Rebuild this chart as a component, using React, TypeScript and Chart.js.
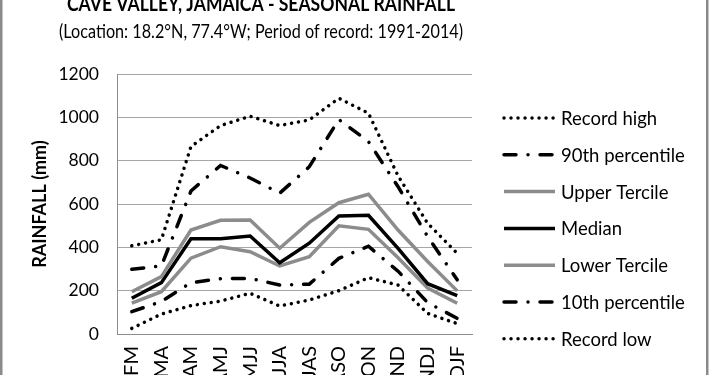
import React, { useEffect, useRef } from "react";
import { Chart, registerables } from "chart.js";

Chart.register(...registerables);

const categories = ["JFM", "FMA", "MAM", "AMJ", "MJJ", "JJA", "JAS", "ASO", "SON", "OND", "NDJ", "DJF"];
const recordHigh = [407, 435, 865, 962, 1005, 962, 988, 1088, 1019, 730, 511, 372];
const pct90 = [299, 314, 660, 778, 720, 650, 772, 990, 888, 680, 450, 250];
const upperTercile = [195, 265, 480, 525, 526, 396, 515, 606, 645, 480, 335, 199];
const median = [165, 237, 440, 440, 452, 329, 419, 545, 548, 395, 232, 177];
const lowerTercile = [142, 195, 350, 403, 380, 314, 357, 499, 483, 352, 212, 142];
const pct10 = [103, 150, 237, 255, 257, 226, 230, 349, 405, 290, 145, 72];
const recordLow = [26, 92, 131, 152, 188, 129, 157, 200, 260, 226, 95, 48];
const seriesNames = ["Record high", "90th percentile", "Upper Tercile", "Median", "Lower Tercile", "10th percentile", "Record low"];
const yTicks = [0, 200, 400, 600, 800, 1000, 1200];
const titleText = "CAVE VALLEY, JAMAICA - SEASONAL RAINFALL";
const subtitleText = "(Location: 18.2°N, 77.4°W; Period of record: 1991-2014)";
const yAxisTitle = "RAINFALL (mm)";

const FONT = "Lato, 'Open Sans', sans-serif";
const DOTTED = [0.01, 7];
const DASHDOT = [12, 12, 0.01, 12];
const GRAY = "#8c8c8c";

function fitText(ctx: CanvasRenderingContext2D, text: string, cx: number, y: number, font: string, width: number) {
  ctx.save();
  ctx.font = font;
  const w = ctx.measureText(text).width;
  const sx = w > 0 ? width / w : 1;
  ctx.translate(cx, y);
  ctx.scale(sx, 1);
  ctx.textAlign = "center";
  ctx.textBaseline = "alphabetic";
  ctx.fillText(text, 0, 0);
  ctx.restore();
}

const decorPlugin = {
  id: "decor",
  afterDraw(chart: any) {
    const ctx = chart.ctx as CanvasRenderingContext2D;
    ctx.save();
    // frame edges
    ctx.fillStyle = "#8a8a8a";
    ctx.fillRect(0, 0, 2.5, chart.height);
    ctx.fillRect(706, 0, 2.5, chart.height);
    // titles
    ctx.fillStyle = "#000";
    fitText(ctx, titleText, 261, 11, `bold 21px ${FONT}`, 388);
    fitText(ctx, subtitleText, 261, 38, `19.5px ${FONT}`, 404);
    // legend
    const x0 = 504;
    const x1 = 555;
    const y0 = 118;
    const dy = 36.8;
    chart.data.datasets.forEach((ds: any, i: number) => {
      const y = y0 + i * dy;
      ctx.save();
      ctx.strokeStyle = ds.borderColor;
      ctx.lineWidth = ds.borderWidth;
      ctx.setLineDash(ds.borderDash || []);
      ctx.lineCap = ds.borderCapStyle || "butt";
      ctx.beginPath();
      ctx.moveTo(x0, y);
      ctx.lineTo(x1, y);
      ctx.stroke();
      ctx.restore();
      ctx.fillStyle = "#000";
      ctx.font = `18.5px ${FONT}`;
      ctx.textAlign = "left";
      ctx.textBaseline = "middle";
      ctx.fillText(ds.label, 561, y + 1);
    });
    ctx.restore();
  },
};

export default function App() {
  const ref = useRef<HTMLCanvasElement | null>(null);

  useEffect(() => {
    if (!ref.current) return;
    Chart.defaults.font.family = FONT;
    const mk = (i: number, data: number[], color: string, dash: number[], cap: string) => ({
      label: seriesNames[i],
      data,
      borderColor: color,
      backgroundColor: color,
      borderWidth: 3.5,
      borderDash: dash,
      borderCapStyle: cap,
      pointRadius: 0,
      pointHoverRadius: 0,
      tension: 0,
      fill: false,
    });
    const chart = new Chart(ref.current, {
      type: "line",
      data: {
        labels: categories,
        datasets: [
          mk(0, recordHigh, "#000", DOTTED, "round"),
          mk(1, pct90, "#000", DASHDOT, "round"),
          mk(2, upperTercile, GRAY, [], "butt"),
          mk(3, median, "#000", [], "butt"),
          mk(4, lowerTercile, GRAY, [], "butt"),
          mk(5, pct10, "#000", DASHDOT, "round"),
          mk(6, recordLow, "#000", DOTTED, "round"),
        ] as any,
      },
      options: {
        animation: false,
        responsive: false,
        maintainAspectRatio: false,
        layout: { padding: { left: 0, right: 238, top: 74, bottom: 0 } },
        plugins: { legend: { display: false }, title: { display: false }, tooltip: { enabled: false } },
        scales: {
          x: {
            type: "category",
            offset: true,
            grid: { display: false, drawTicks: false },
            border: { display: true, color: GRAY, width: 1 },
            ticks: { maxRotation: 90, minRotation: 90, padding: 12, color: "#000", font: { size: 20 }, autoSkip: false },
            afterFit: (s: any) => { s.height = 66; },
          },
          y: {
            min: 0,
            max: 1200,
            afterBuildTicks: (s: any) => { s.ticks = yTicks.map((v) => ({ value: v })); },
            grid: { color: "#a6a6a6", lineWidth: 1, drawTicks: false },
            border: { display: true, color: GRAY, width: 1 },
            ticks: { padding: 18, color: "#000", font: { size: 17.5 }, callback: (v: any) => String(v) },
            title: { display: true, text: yAxisTitle, color: "#000", font: { size: 18, weight: "bold" }, padding: { top: 29, bottom: 0 } },
            afterFit: (s: any) => { s.width = 117; },
          },
        },
      } as any,
      plugins: [decorPlugin],
    });
    return () => chart.destroy();
  }, []);

  return (
    <div style={{ position: "absolute", left: 0, top: 0, width: 710, height: 375, overflow: "hidden", background: "#fff" }}>
      <canvas ref={ref} width={710} height={400} style={{ display: "block", width: 710, height: 400 }} />
    </div>
  );
}
